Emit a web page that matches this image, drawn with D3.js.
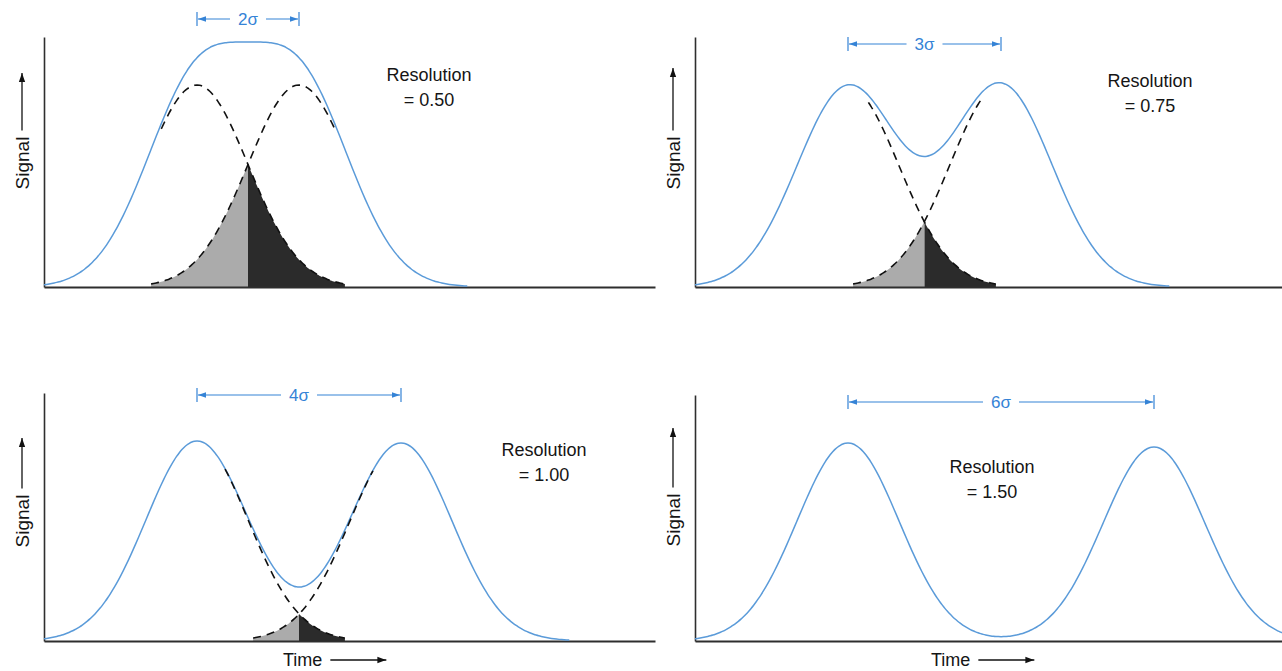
<!DOCTYPE html>
<html lang="en">
<meta charset="utf-8">
<style>
  body { margin: 0; background: #fff; }
  text { font-family: "Liberation Sans", Arial, sans-serif; }
</style>
<script src="https://d3js.org/d3.v7.min.js"></script>
<body>
<div id="chart"></div>
<script>
// values (peak spacing and widths in units of sigma)
var resolutions = ["0.50", "0.75", "1.00", "1.50"];
var separation = [2, 3, 4, 6];
var bracketLabels = ["2σ", "3σ", "4σ", "6σ"];
var heightA = [1.01, 1.00, 1.00, 0.99];
var heightB = [1.01, 1.01, 0.99, 0.97];
var dashFrom = [-0.7, 0.4, 0.55, null];   // where the dashed single peaks leave the sum
var tailEnd = 2.9;

// layout of the four panels
var w = 1282, h = 671;
var sigmaPx = 51;
var unitPx = 200;
var panels = [
  {axisX: 44,  base: 287, top: 37,  xEnd: 655,  bracketY: 19,  resX: 429,  resY: 81,
   sigY: 163, arrowTop: 73,  timeX: null},
  {axisX: 695, base: 287, top: 37,  xEnd: 1282, bracketY: 44,  resX: 1150, resY: 87,
   sigY: 163, arrowTop: 68,  timeX: null},
  {axisX: 44,  base: 641, top: 393, xEnd: 655,  bracketY: 395, resX: 544,  resY: 456,
   sigY: 521, arrowTop: 438, timeX: 283},
  {axisX: 695, base: 641, top: 395, xEnd: 1282, bracketY: 402, resX: 992,  resY: 473,
   sigY: 520, arrowTop: 428, timeX: 931}
];

var blue = "#5b9bd9";
var bracketBlue = "#3583d6";
var axisColor = "#2e2e2e";

var svg = d3.select("#chart").append("svg")
  .attr("width", w)
  .attr("height", h);

var defs = svg.append("defs");
function marker(id, color, size) {
  defs.append("marker")
    .attr("id", id)
    .attr("viewBox", "0 0 10 10")
    .attr("refX", 10).attr("refY", 5)
    .attr("markerWidth", size).attr("markerHeight", size)
    .attr("markerUnits", "userSpaceOnUse")
    .attr("orient", "auto")
    .append("path")
      .attr("d", "M0,1.5 L10,5 L0,8.5 Z")
      .attr("fill", color);
}
marker("arrBlue", bracketBlue, 8);
marker("arrBlack", "#111", 9);

function gauss(t, mu, a) {
  return a * Math.exp(-0.5 * (t - mu) * (t - mu));
}

panels.forEach(function(p, i) {
  var sep = separation[i];
  var g = svg.append("g");

  var x = d3.scaleLinear().domain([-3, 0]).range([p.axisX, p.axisX + 3 * sigmaPx]);
  var y = d3.scaleLinear().domain([0, 1]).range([p.base, p.base - unitPx]);
  var tMax = Math.min(x.invert(p.xEnd), sep + 3.3);

  var f1 = function(t) { return gauss(t, 0, heightA[i]); };
  var f2 = function(t) { return gauss(t, sep, heightB[i]); };

  var line = d3.line()
    .x(function(d) { return x(d.t); })
    .y(function(d) { return y(d.v); })
    .curve(d3.curveBasis);

  var area = d3.area()
    .x(function(d) { return x(d.t); })
    .y0(y(0))
    .y1(function(d) { return y(d.v); });

  // overlap shading (only where the peaks still overlap visibly)
  if (dashFrom[i] !== null) {
    var mid = sep / 2;
    var left = d3.range(sep - tailEnd, mid, 0.02).concat([mid])
      .map(function(t) { return {t: t, v: f2(t)}; });
    var right = d3.range(mid, tailEnd, 0.02).concat([tailEnd])
      .map(function(t) { return {t: t, v: f1(t)}; });
    g.append("path").attr("d", area(left)).attr("fill", "#ababab");
    g.append("path").attr("d", area(right)).attr("fill", "#2b2b2b");
  }

  // axes
  var yAxisScale = d3.scaleLinear()
    .domain([0, (p.base - p.top) / unitPx])
    .range([p.base, p.top]);
  g.append("g")
    .attr("transform", "translate(" + p.axisX + ",0)")
    .call(d3.axisLeft(yAxisScale).ticks(0).tickSizeOuter(0))
    .select(".domain").attr("stroke", axisColor).attr("stroke-width", 1.6);
  var xAxisScale = d3.scaleLinear().domain([-3, x.invert(p.xEnd)]).range([p.axisX, p.xEnd]);
  g.append("g")
    .attr("transform", "translate(0," + p.base + ")")
    .call(d3.axisBottom(xAxisScale).ticks(0).tickSizeOuter(0))
    .select(".domain").attr("stroke", axisColor).attr("stroke-width", 1.8);

  // summed signal
  var sum = d3.range(-3, tMax, 0.05).concat([tMax])
    .map(function(t) { return {t: t, v: f1(t) + f2(t)}; });
  g.append("path")
    .attr("d", line(sum))
    .attr("fill", "none")
    .attr("stroke", blue)
    .attr("stroke-width", 1.5);

  // individual peaks, dashed
  if (dashFrom[i] !== null) {
    var d1 = d3.range(dashFrom[i], tailEnd, 0.05).concat([tailEnd])
      .map(function(t) { return {t: t, v: f1(t)}; });
    var d2 = d3.range(sep - tailEnd, sep - dashFrom[i], 0.05).concat([sep - dashFrom[i]])
      .map(function(t) { return {t: t, v: f2(t)}; });
    [d1, d2].forEach(function(d) {
      g.append("path")
        .attr("d", line(d))
        .attr("fill", "none")
        .attr("stroke", "#111")
        .attr("stroke-width", 1.6)
        .attr("stroke-dasharray", "8,6");
    });
  }

  // sigma bracket
  var bx1 = x(0), bx2 = x(sep), by = p.bracketY;
  var br = g.append("g");
  [bx1, bx2].forEach(function(bx) {
    br.append("line")
      .attr("x1", bx).attr("x2", bx)
      .attr("y1", by - 7).attr("y2", by + 7)
      .attr("stroke", bracketBlue).attr("stroke-width", 1.2);
  });
  var cx = (bx1 + bx2) / 2;
  var lab = br.append("text")
    .attr("x", cx)
    .attr("y", by + 6)
    .attr("text-anchor", "middle")
    .attr("font-size", 17)
    .attr("fill", bracketBlue)
    .text(bracketLabels[i]);
  var tw = lab.node().getComputedTextLength();
  br.append("line")
    .attr("x1", cx - tw / 2 - 8).attr("x2", bx1 + 1)
    .attr("y1", by).attr("y2", by)
    .attr("stroke", bracketBlue).attr("stroke-width", 1.1)
    .attr("marker-end", "url(#arrBlue)");
  br.append("line")
    .attr("x1", cx + tw / 2 + 8).attr("x2", bx2 - 1)
    .attr("y1", by).attr("y2", by)
    .attr("stroke", bracketBlue).attr("stroke-width", 1.1)
    .attr("marker-end", "url(#arrBlue)");

  // resolution note
  var note = g.append("text")
    .attr("text-anchor", "middle")
    .attr("font-size", 18)
    .attr("fill", "#151515");
  note.append("tspan").attr("x", p.resX).attr("y", p.resY).text("Resolution");
  note.append("tspan").attr("x", p.resX).attr("y", p.resY + 25).text("= " + resolutions[i]);

  // Signal label with arrow
  var sx = p.axisX - 22;
  var sig = g.append("text")
    .attr("transform", "translate(" + (sx + 7) + "," + p.sigY + ") rotate(-90)")
    .attr("text-anchor", "middle")
    .attr("font-size", 19)
    .attr("fill", "#151515")
    .text("Signal");
  var sl = sig.node().getComputedTextLength();
  g.append("line")
    .attr("x1", sx).attr("x2", sx)
    .attr("y1", p.sigY - sl / 2 - 6).attr("y2", p.arrowTop)
    .attr("stroke", "#111").attr("stroke-width", 1.3)
    .attr("marker-end", "url(#arrBlack)");

  // Time label with arrow
  if (p.timeX !== null) {
    var tl = g.append("text")
      .attr("x", p.timeX).attr("y", 666)
      .attr("font-size", 18)
      .attr("fill", "#151515")
      .text("Time");
    var tlw = tl.node().getComputedTextLength();
    g.append("line")
      .attr("x1", p.timeX + tlw + 8).attr("x2", p.timeX + tlw + 64)
      .attr("y1", 660).attr("y2", 660)
      .attr("stroke", "#111").attr("stroke-width", 1.3)
      .attr("marker-end", "url(#arrBlack)");
  }
});
</script>
</body>
</html>
